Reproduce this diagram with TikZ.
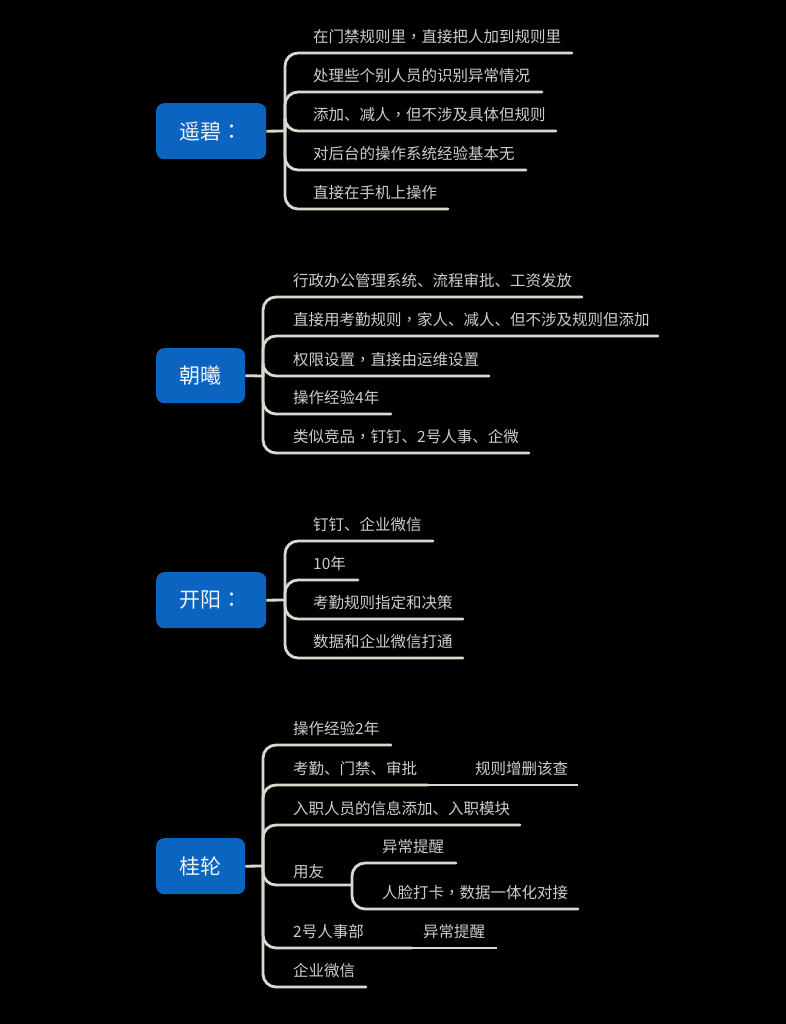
\documentclass[tikz,border=0pt]{standalone}
\usepackage{fontspec}
\setmainfont{Noto Sans CJK SC}
\newfontfamily\tcfont{Noto Sans CJK TC}
\newcommand{\cm}{{\tcfont ，}}
\newcommand{\cl}{{\tcfont ：}}
\definecolor{bgc}{HTML}{000000}
\definecolor{boxc}{HTML}{0B65C0}
\definecolor{linec}{HTML}{D6DBCF}
\definecolor{txtc}{HTML}{CDCDCD}
\definecolor{boxtxt}{HTML}{EEF2F6}
\begin{document}
\begin{tikzpicture}[x=1pt,y=-1pt,
  topic/.style={draw=none,fill=boxc,rounded corners=8pt,text=boxtxt,font=\fontsize{21}{24}\selectfont,inner sep=0pt,anchor=north west},
  item/.style={text=txtc,font=\fontsize{15.5}{18}\selectfont,inner sep=0pt,anchor=base west},
  branch/.style={draw=linec,line width=2.8pt,rounded corners=13pt,line cap=round},
  link/.style={draw=linec,line width=2.8pt}]
\fill[bgc] (0,0) rectangle (786,1024);
\useasboundingbox (0,0) rectangle (786,1024);

% ---------- Group 1 ----------
\node[topic,minimum width=110pt,minimum height=56pt] (t1) at (156,103) {遥碧\cl};
\coordinate (h1) at (285,131);
\draw[link] (t1.east) -- (h1);
\node[item] (a11) at (313,42.5) {在门禁规则里\cm 直接把人加到规则里};
\node[item] (a12) at (313,81.5) {处理些个别人员的识别异常情况};
\node[item] (a13) at (313,120.5) {添加、减人\cm 但不涉及具体但规则};
\node[item] (a14) at (313,159.5) {对后台的操作系统经验基本无};
\node[item] (a15) at (313,198.5) {直接在手机上操作};
\coordinate (e11) at (572,53);
\coordinate (e12) at (542,92);
\coordinate (e13) at (556,131);
\coordinate (e14) at (526,170);
\coordinate (e15) at (448,209);
\foreach \e in {e11,e12,e13,e14,e15} \draw[branch] (h1) |- (\e);

% ---------- Group 2 ----------
\node[topic,minimum width=89pt,minimum height=55pt] (t2) at (156,348) {朝曦};
\coordinate (h2) at (263,376);
\draw[link] (t2.east) -- (h2);
\node[item] (a21) at (293,286.5) {行政办公管理系统、流程审批、工资发放};
\node[item] (a22) at (293,325.5) {直接用考勤规则\cm 家人、减人、但不涉及规则但添加};
\node[item] (a23) at (293,365.5) {权限设置\cm 直接由运维设置};
\node[item] (a24) at (293,403.5) {操作经验4年};
\node[item] (a25) at (293,442.5) {类似竞品\cm 钉钉、2号人事、企微};
\coordinate (e21) at (582,297);
\coordinate (e22) at (658,336);
\coordinate (e23) at (489,376);
\coordinate (e24) at (391,414);
\coordinate (e25) at (529,453);
\foreach \e in {e21,e22,e23,e24,e25} \draw[branch] (h2) |- (\e);

% ---------- Group 3 ----------
\node[topic,minimum width=110pt,minimum height=56pt] (t3) at (156,572) {开阳\cl};
\coordinate (h3) at (285,600);
\draw[link] (t3.east) -- (h3);
\node[item] (a31) at (313,530.5) {钉钉、企业微信};
\node[item] (a32) at (313,569.5) {10年};
\node[item] (a33) at (313,608.5) {考勤规则指定和决策};
\node[item] (a34) at (313,647.5) {数据和企业微信打通};
\coordinate (e31) at (433,541);
\coordinate (e32) at (358,580);
\coordinate (e33) at (463,619);
\coordinate (e34) at (463,658);
\foreach \e in {e31,e32,e33,e34} \draw[branch] (h3) |- (\e);

% ---------- Group 4 ----------
\node[topic,minimum width=89pt,minimum height=56pt] (t4) at (156,838) {桂轮};
\coordinate (h4) at (263,866);
\draw[link] (t4.east) -- (h4);
\node[item] (a41) at (293,734.5) {操作经验2年};
\node[item] (a42) at (293,774.5) {考勤、门禁、审批};
\node[item] (a42b) at (475,774.5) {规则增删该查};
\node[item] (a43) at (293,814.5) {入职人员的信息添加、入职模块};
\node[item] (a44) at (293,877.5) {用友};
\node[item] (a44a) at (382,852.5) {异常提醒};
\node[item] (a44b) at (382,898.5) {人脸打卡\cm 数据一体化对接};
\node[item] (a45) at (293,937.5) {2号人事部};
\node[item] (a45b) at (423,937.5) {异常提醒};
\node[item] (a46) at (293,976.5) {企业微信};
\coordinate (e41) at (391,745);
\coordinate (j42) at (428,785);
\coordinate (e42) at (578,785);
\coordinate (e43) at (520,825);
\coordinate (j44) at (352,885);
\coordinate (e44a) at (456,863);
\coordinate (e44b) at (578,909);
\coordinate (j45) at (412,948);
\coordinate (e45) at (497,948);
\coordinate (e46) at (366,987);
\foreach \e in {e41,j42,e43,j44,j45,e46} \draw[branch] (h4) |- (\e);
\draw[link] (j42) -- (e42);
\draw[link] (j45) -- (e45);
\draw[branch] (j44) |- (e44a);
\draw[branch] (j44) |- (e44b);
\end{tikzpicture}
\end{document}
